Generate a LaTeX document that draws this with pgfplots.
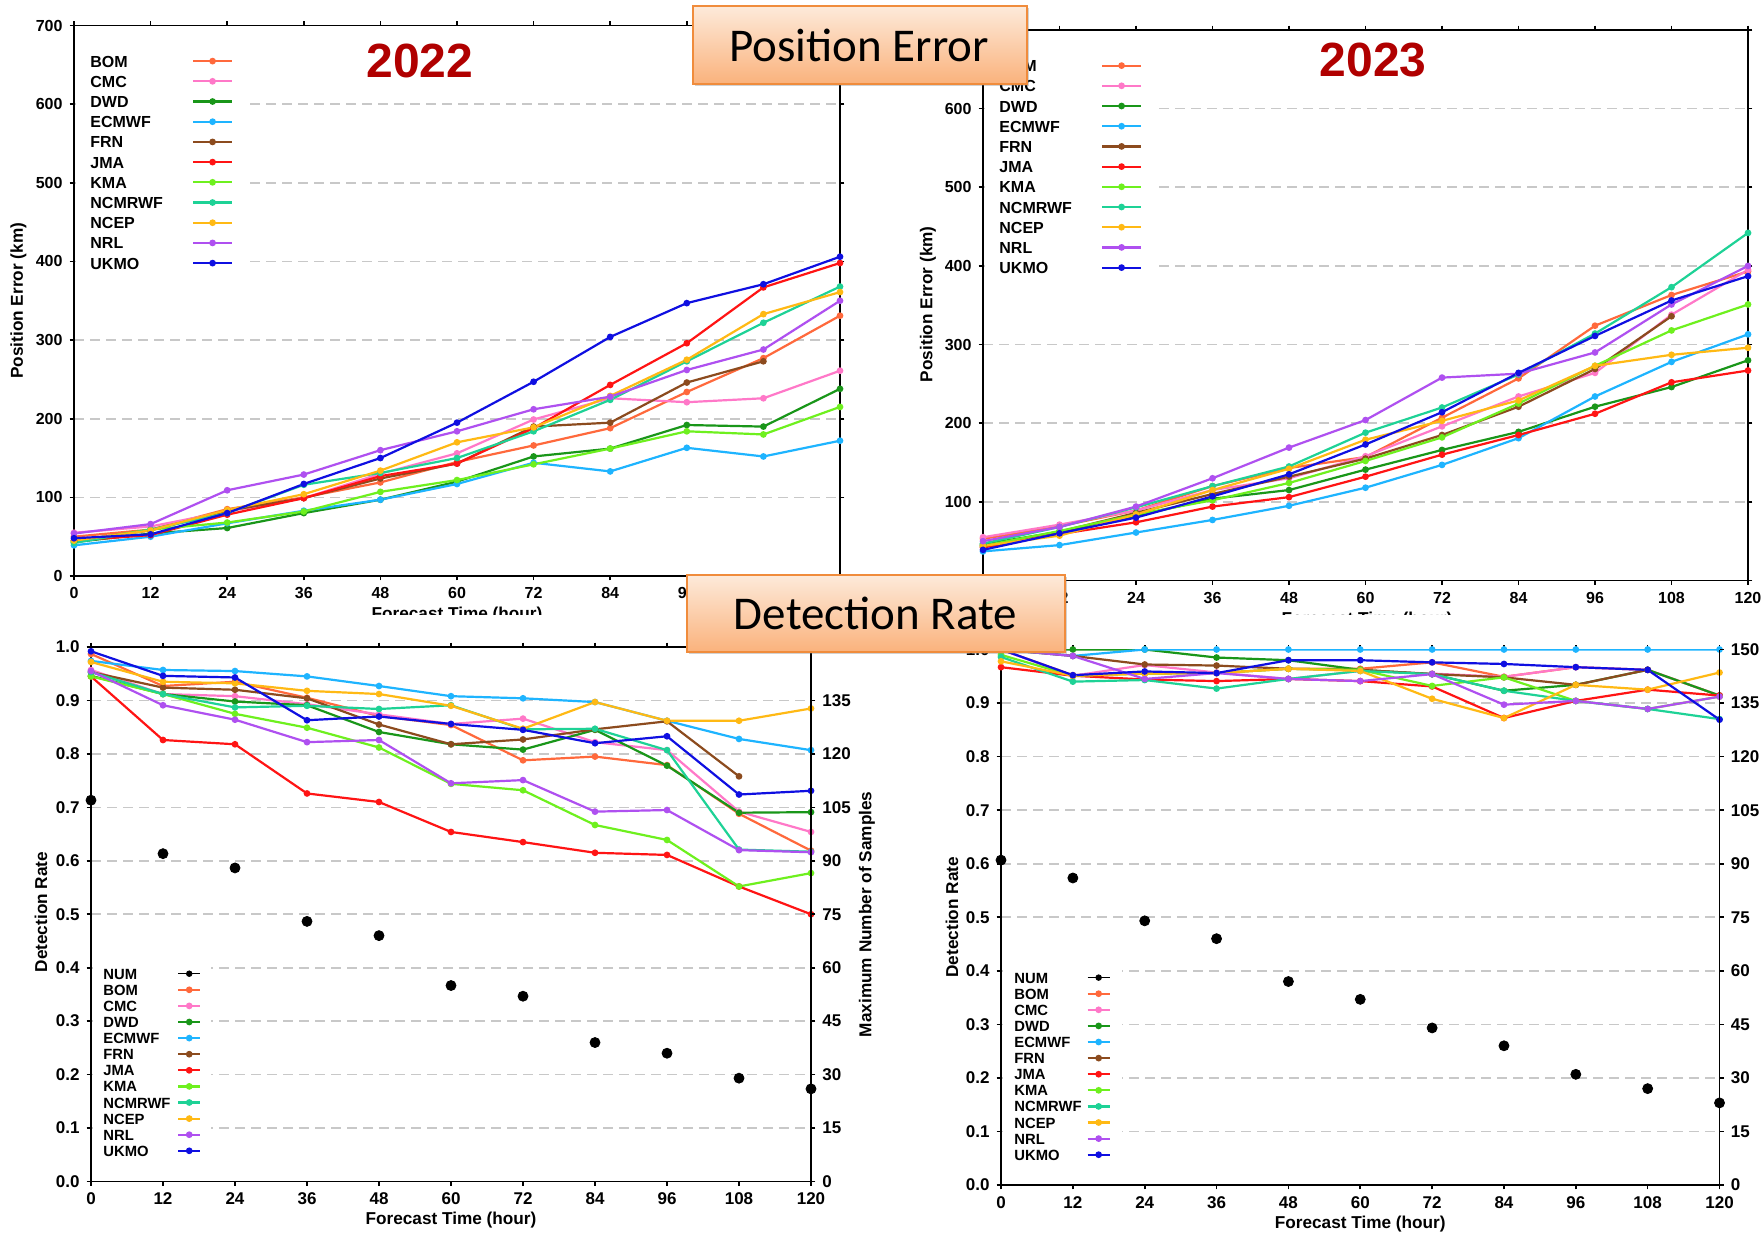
\documentclass[border=0pt]{standalone}
\usepackage{pgfplots}
\pgfplotsset{compat=1.18}
\usepackage{fontspec}
\setmainfont{Liberation Sans}
\newfontfamily\carlito{Carlito}
\usetikzlibrary{shadows}

\definecolor{cBOM}{RGB}{255,105,60}
\definecolor{cCMC}{RGB}{255,120,200}
\definecolor{cDWD}{RGB}{25,150,25}
\definecolor{cECMWF}{RGB}{30,180,255}
\definecolor{cFRN}{RGB}{140,75,30}
\definecolor{cJMA}{RGB}{255,20,20}
\definecolor{cKMA}{RGB}{110,240,30}
\definecolor{cNCMRWF}{RGB}{30,210,150}
\definecolor{cNCEP}{RGB}{255,185,20}
\definecolor{cNRL}{RGB}{175,80,240}
\definecolor{cUKMO}{RGB}{15,15,225}
\definecolor{yearred}{RGB}{176,0,0}
\definecolor{gridgray}{RGB}{200,200,200}
\definecolor{boxtop}{RGB}{253,234,218}
\definecolor{boxbot}{RGB}{250,178,124}
\definecolor{boxedge}{RGB}{240,140,60}

\pgfplotsset{
  ser/.style={color=#1, line width=1.1pt, mark=*, mark size=1.1pt, mark options={solid, fill=#1, draw=#1}},
  base/.style={scale only axis, anchor=south west, xmin=0, xmax=120, xtick={0,12,...,120},
    axis line style={line width=0.9pt, black}, tick style={line width=0.8pt, black},
    major tick length=2.2pt, tick align=outside,
    ymajorgrids, major grid style={gridgray, line width=0.8pt, dash pattern=on 5pt off 3pt},
    /pgf/number format/assume math mode=true,
    label style={font=\bfseries\fontsize{8.6}{10}\selectfont},
    legend cell align=left, legend plot pos=right,
  },
  toppanel/.style={base, ymin=0, ymax=700, ytick={0,100,...,700},
    tick label style={font=\bfseries\fontsize{8}{9}\selectfont},
    ylabel={Position Error (km)}, xlabel={Forecast Time (hour)},
    legend style={at={(0,1)}, anchor=north west, xshift=1pt, yshift=-1pt, draw=none, fill=white,
      inner xsep=7pt, inner ysep=13.6pt, row sep=4.1pt, column sep=14.5pt,
      nodes={inner sep=0pt, text height=6pt, text depth=0pt, font=\bfseries\fontsize{8}{9}\selectfont}},
    legend image code/.code={\draw[mark repeat=2,mark phase=2,##1] plot coordinates {(0pt,0pt) (9.75pt,0pt) (19.5pt,0pt)};},
  },
  botpanel/.style={base, ymin=0, ymax=1, ytick={0,0.1,...,1.0}, ytick pos=left,
    tick label style={font=\bfseries\fontsize{8.5}{9}\selectfont},
    yticklabel style={/pgf/number format/.cd, fixed, fixed zerofill, precision=1},
    ylabel={Detection Rate}, xlabel={Forecast Time (hour)},
    legend style={at={(0,1)}, anchor=north west, xshift=1pt, draw=none, fill=white,
      inner ysep=1.4pt, row sep=2.55pt,
      nodes={inner sep=0pt, text height=5.5pt, text depth=0pt, font=\bfseries\fontsize{7.4}{8}\selectfont}},
    legend image code/.code={\draw[mark repeat=2,mark phase=2,##1] plot coordinates {(0pt,0pt) (5.5pt,0pt) (11pt,0pt)};},
  },
  numaxis/.style={scale only axis, anchor=south west, xmin=0, xmax=120, ymin=0, ymax=150,
    axis x line=none, axis y line*=right, ytick={0,15,...,150},
    axis line style={line width=0.9pt, black}, tick style={line width=0.8pt, black},
    major tick length=2.2pt, tick align=outside,
    /pgf/number format/assume math mode=true,
    tick label style={font=\bfseries\fontsize{8.5}{9}\selectfont},
    label style={font=\bfseries\fontsize{8.6}{10}\selectfont},
  },
}

\begin{document}
\begin{tikzpicture}
\useasboundingbox (0,0) rectangle (882pt,616.5pt);
\fill[white] (0,0) rectangle (882pt,616.5pt);

% ---------------- Panel 1: Position Error 2022
\begin{axis}[toppanel, at={(37pt,328.5pt)}, width=383pt, height=275.25pt,
  ylabel style={at={(axis description cs:-0.0725,0.5)}, anchor=center},
  xlabel style={at={(axis description cs:0.5,-0.0718)}, anchor=center}]
\addplot[ser=cBOM] coordinates {(0,50)(12,59)(24,85)(36,100)(48,119)(60,145)(72,166)(84,188)(96,234)(108,277)(120,331)};
\addplot[ser=cCMC] coordinates {(0,55)(12,63)(24,82)(36,99)(48,130)(60,156)(72,199)(84,226)(96,221)(108,226)(120,261)};
\addplot[ser=cDWD] coordinates {(0,43)(12,54)(24,61)(36,80)(48,97)(60,120)(72,152)(84,162)(96,192)(108,190)(120,238)};
\addplot[ser=cECMWF] coordinates {(0,39)(12,50)(24,67)(36,83)(48,97)(60,117)(72,144)(84,133)(96,163)(108,152)(120,172)};
\addplot[ser=cFRN] coordinates {(0,45)(12,58)(24,83)(36,99)(48,124)(60,143)(72,190)(84,195)(96,246)(108,273)};
\addplot[ser=cJMA] coordinates {(0,45)(12,52)(24,78)(36,99)(48,127)(60,143)(72,188)(84,243)(96,296)(108,367)(120,398)};
\addplot[ser=cKMA] coordinates {(0,44)(12,59)(24,68)(36,82)(48,107)(60,122)(72,142)(84,162)(96,184)(108,180)(120,215)};
\addplot[ser=cNCMRWF] coordinates {(0,42)(12,59)(24,80)(36,116)(48,131)(60,150)(72,184)(84,224)(96,273)(108,322)(120,368)};
\addplot[ser=cNCEP] coordinates {(0,45)(12,58)(24,84)(36,104)(48,134)(60,170)(72,189)(84,229)(96,275)(108,333)(120,361)};
\addplot[ser=cNRL] coordinates {(0,54)(12,66)(24,109)(36,129)(48,160)(60,184)(72,212)(84,228)(96,262)(108,288)(120,350)};
\addplot[ser=cUKMO] coordinates {(0,48)(12,53)(24,80)(36,117)(48,150)(60,195)(72,247)(84,304)(96,347)(108,371)(120,406)};
\legend{BOM,CMC,DWD,ECMWF,FRN,JMA,KMA,NCMRWF,NCEP,NRL,UKMO}
\end{axis}

% ---------------- Panel 2: Position Error 2023
\begin{axis}[toppanel, at={(491.5pt,326.25pt)}, width=382.5pt, height=275.25pt,
  ylabel style={at={(axis description cs:-0.0719,0.502)}, anchor=center},
  xlabel style={at={(axis description cs:0.502,-0.0718)}, anchor=center}]
\addplot[ser=cBOM] coordinates {(0,53)(12,69)(24,89)(36,120)(48,143)(60,157)(72,207)(84,257)(96,324)(108,363)(120,393)};
\addplot[ser=cCMC] coordinates {(0,55)(12,71)(24,89)(36,115)(48,130)(60,158)(72,196)(84,234)(96,264)(108,338)(120,395)};
\addplot[ser=cDWD] coordinates {(0,46)(12,62)(24,82)(36,104)(48,115)(60,141)(72,166)(84,189)(96,221)(108,246)(120,280)};
\addplot[ser=cECMWF] coordinates {(0,37)(12,45)(24,61)(36,77)(48,95)(60,118)(72,147)(84,181)(96,234)(108,278)(120,313)};
\addplot[ser=cFRN] coordinates {(0,44)(12,62)(24,86)(36,110)(48,132)(60,155)(72,185)(84,221)(96,269)(108,336)};
\addplot[ser=cJMA] coordinates {(0,42)(12,59)(24,74)(36,94)(48,106)(60,132)(72,160)(84,185)(96,212)(108,252)(120,267)};
\addplot[ser=cKMA] coordinates {(0,44)(12,63)(24,84)(36,102)(48,124)(60,152)(72,182)(84,225)(96,273)(108,318)(120,351)};
\addplot[ser=cNCMRWF] coordinates {(0,47)(12,68)(24,93)(36,120)(48,145)(60,188)(72,220)(84,262)(96,314)(108,373)(120,442)};
\addplot[ser=cNCEP] coordinates {(0,44)(12,57)(24,84)(36,115)(48,142)(60,179)(72,203)(84,229)(96,273)(108,287)(120,296)};
\addplot[ser=cNRL] coordinates {(0,50)(12,68)(24,94)(36,130)(48,169)(60,204)(72,258)(84,263)(96,290)(108,351)(120,400)};
\addplot[ser=cUKMO] coordinates {(0,39)(12,60)(24,80)(36,107)(48,135)(60,173)(72,214)(84,264)(96,311)(108,356)(120,387)};
\legend{BOM,CMC,DWD,ECMWF,FRN,JMA,KMA,NCMRWF,NCEP,NRL,UKMO}
\end{axis}

% cut off the lower part of the upper panels
\fill[white] (0,0) rectangle (882pt,309pt);

% ---------------- Panel 3: Detection Rate 2022
\begin{axis}[botpanel, at={(45.5pt,25.75pt)}, width=360pt, height=267.25pt,
  ylabel style={at={(axis description cs:-0.0694,0.504)}, anchor=center},
  xlabel style={at={(axis description cs:0.5,-0.072)}, anchor=center},
  legend style={yshift=-159pt, inner xsep=5pt, column sep=3.3pt}]
\addlegendimage{draw=none, mark=*, mark size=1.4pt, mark options={draw=black, fill=black}}
\addplot[ser=cBOM] coordinates {(0,.987)(12,.927)(24,.935)(36,.905)(48,.871)(60,.854)(72,.788)(84,.795)(96,.779)(108,.688)(120,.619)};
\addplot[ser=cCMC] coordinates {(0,.957)(12,.912)(24,.908)(36,.893)(48,.874)(60,.856)(72,.866)(84,.822)(96,.807)(108,.692)(120,.654)};
\addplot[ser=cDWD] coordinates {(0,.946)(12,.912)(24,.898)(36,.891)(48,.841)(60,.818)(72,.808)(84,.845)(96,.778)(108,.690)(120,.691)};
\addplot[ser=cECMWF] coordinates {(0,.974)(12,.957)(24,.955)(36,.945)(48,.927)(60,.908)(72,.904)(84,.897)(96,.862)(108,.828)(120,.807)};
\addplot[ser=cFRN] coordinates {(0,.953)(12,.924)(24,.920)(36,.904)(48,.855)(60,.818)(72,.827)(84,.846)(96,.861)(108,.758)};
\addplot[ser=cJMA] coordinates {(0,.945)(12,.826)(24,.818)(36,.726)(48,.710)(60,.654)(72,.635)(84,.615)(96,.611)(108,.552)(120,.500)};
\addplot[ser=cKMA] coordinates {(0,.945)(12,.912)(24,.875)(36,.849)(48,.812)(60,.744)(72,.732)(84,.667)(96,.639)(108,.552)(120,.577)};
\addplot[ser=cNCMRWF] coordinates {(0,.953)(12,.912)(24,.887)(36,.890)(48,.884)(60,.891)(72,.846)(84,.847)(96,.807)(108,.621)(120,.617)};
\addplot[ser=cNCEP] coordinates {(0,.972)(12,.935)(24,.932)(36,.918)(48,.912)(60,.890)(72,.847)(84,.897)(96,.862)(108,.862)(120,.885)};
\addplot[ser=cNRL] coordinates {(0,.955)(12,.891)(24,.864)(36,.822)(48,.826)(60,.745)(72,.751)(84,.692)(96,.695)(108,.620)(120,.616)};
\addplot[ser=cUKMO] coordinates {(0,.992)(12,.946)(24,.943)(36,.863)(48,.870)(60,.856)(72,.845)(84,.820)(96,.833)(108,.724)(120,.731)};
\legend{NUM,BOM,CMC,DWD,ECMWF,FRN,JMA,KMA,NCMRWF,NCEP,NRL,UKMO}
\end{axis}
\begin{axis}[numaxis, at={(45.5pt,25.75pt)}, width=360pt, height=267.25pt,
  ylabel={Maximum Number of Samples},
  ylabel style={at={(axis description cs:1.0778,0.5)}, anchor=center, rotate=0}]
\addplot[only marks, mark=*, mark size=2.5pt, black] coordinates {(0,107)(12,92)(24,88)(36,73)(48,69)(60,55)(72,52)(84,39)(96,36)(108,29)(120,26)};
\end{axis}

% ---------------- Panel 4: Detection Rate 2023
\begin{axis}[botpanel, at={(500.5pt,24pt)}, width=359.25pt, height=267.75pt,
  ylabel style={at={(axis description cs:-0.0682,0.5)}, anchor=center},
  xlabel style={at={(axis description cs:0.5,-0.0738)}, anchor=center},
  legend style={yshift=-159.7pt, inner xsep=5.5pt, column sep=2.5pt}]
\addlegendimage{draw=none, mark=*, mark size=1.4pt, mark options={draw=black, fill=black}}
\addplot[ser=cBOM] coordinates {(0,1.0)(12,.952)(24,.955)(36,.956)(48,.964)(60,.964)(72,.976)(84,.949)(96,.967)(108,.962)(120,.914)};
\addplot[ser=cCMC] coordinates {(0,1.0)(12,.951)(24,.971)(36,.957)(48,.945)(60,.960)(72,.955)(84,.949)(96,.967)(108,.962)(120,.914)};
\addplot[ser=cDWD] coordinates {(0,1.0)(12,1.0)(24,1.0)(36,.985)(48,.980)(60,.962)(72,.954)(84,.923)(96,.934)(108,.962)(120,.914)};
\addplot[ser=cECMWF] coordinates {(0,1.0)(12,.988)(24,1.0)(36,1.0)(48,1.0)(60,1.0)(72,1.0)(84,1.0)(96,1.0)(108,1.0)(120,1.0)};
\addplot[ser=cFRN] coordinates {(0,1.0)(12,.988)(24,.972)(36,.970)(48,.964)(60,.962)(72,.954)(84,.948)(96,.934)(108,.962)};
\addplot[ser=cJMA] coordinates {(0,.967)(12,.951)(24,.944)(36,.941)(48,.945)(60,.941)(72,.931)(84,.872)(96,.904)(108,.925)(120,.914)};
\addplot[ser=cKMA] coordinates {(0,.990)(12,.951)(24,.955)(36,.956)(48,.964)(60,.962)(72,.932)(84,.948)(96,.904)(108,.889)(120,.912)};
\addplot[ser=cNCMRWF] coordinates {(0,.986)(12,.940)(24,.943)(36,.927)(48,.945)(60,.960)(72,.954)(84,.923)(96,.904)(108,.889)(120,.870)};
\addplot[ser=cNCEP] coordinates {(0,.978)(12,.951)(24,.955)(36,.956)(48,.964)(60,.960)(72,.908)(84,.872)(96,.934)(108,.925)(120,.957)};
\addplot[ser=cNRL] coordinates {(0,1.0)(12,.988)(24,.945)(36,.956)(48,.945)(60,.941)(72,.954)(84,.897)(96,.904)(108,.889)(120,.912)};
\addplot[ser=cUKMO] coordinates {(0,1.0)(12,.952)(24,.959)(36,.956)(48,.980)(60,.980)(72,.976)(84,.973)(96,.967)(108,.962)(120,.869)};
\legend{NUM,BOM,CMC,DWD,ECMWF,FRN,JMA,KMA,NCMRWF,NCEP,NRL,UKMO}
\end{axis}
\begin{axis}[numaxis, at={(500.5pt,24pt)}, width=359.25pt, height=267.75pt]
\addplot[only marks, mark=*, mark size=2.5pt, black] coordinates {(0,91)(12,86)(24,74)(36,69)(48,57)(60,52)(72,44)(84,39)(96,31)(108,27)(120,23)};
\end{axis}

% ---------------- year labels and title boxes
\node[font=\bfseries\fontsize{24}{28}\selectfont, text=yearred] at (210pt,586.25pt) {2022};
\node[font=\bfseries\fontsize{24}{28}\selectfont, text=yearred] at (686.5pt,586.25pt) {2023};

\path[draw=boxedge, line width=1pt, top color=boxtop, bottom color=boxbot,
  drop shadow={shadow xshift=1.2pt, shadow yshift=-1.2pt, opacity=0.35}]
  (346.5pt,574.5pt) rectangle (513.5pt,613.5pt);
\node[font=\carlito\fontsize{23.5}{28}\selectfont, anchor=base, inner sep=0pt] at (429.5pt,585.5pt) {Position Error};

\path[draw=boxedge, line width=1pt, top color=boxtop, bottom color=boxbot,
  drop shadow={shadow xshift=1.2pt, shadow yshift=-1.2pt, opacity=0.35}]
  (343.5pt,290.5pt) rectangle (532.5pt,329pt);
\node[font=\carlito\fontsize{23.5}{28}\selectfont, anchor=base, inner sep=0pt] at (437.75pt,302pt) {Detection Rate};
\end{tikzpicture}
\end{document}
